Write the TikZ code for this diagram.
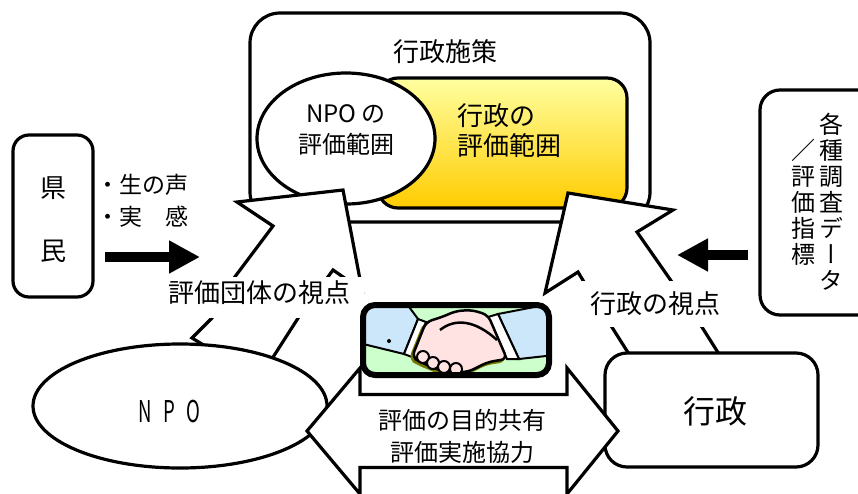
\documentclass[tikz,border=0pt]{standalone}
\usepackage{fontspec}
\setmainfont{Noto Sans CJK JP}
\newfontfamily\vertfont[RawFeature=+vert]{Noto Sans CJK JP}
\usepackage{graphicx}
\usepackage{tikz}
\usetikzlibrary{positioning, shapes.geometric, arrows.meta}
\definecolor{paleyellow}{RGB}{255,255,160}
\definecolor{deepyellow}{RGB}{255,204,0}
\definecolor{sleeveblue}{RGB}{204,230,250}
\definecolor{shakegreen}{RGB}{204,255,204}
\definecolor{handpink}{RGB}{255,226,226}
\definecolor{shadowolive}{RGB}{120,120,0}
\tikzstyle{boxline}=[%
      draw=black, line width=3.2pt, fill=white
]
\tikzstyle{roundbox}=[%
      boxline, rectangle, rounded corners=18pt, inner sep=0pt
]
\tikzstyle{oval}=[%
      boxline, ellipse, inner sep=0pt
]
\tikzstyle{callout}=[%
      draw=black, line width=3.2pt, fill=white, line join=miter
]
\tikzstyle{txt}=[%
      inner sep=0pt, align=center
]
\tikzstyle{viewlabel}=[%
      fill=white, inner xsep=14pt, inner ysep=0pt, text height=25pt, text depth=16pt,
      font=\fontsize{26}{30}\selectfont
]
\tikzstyle{fatarrow}=[%
      line width=10pt, -{Triangle[length=31pt,width=31pt]}
]

\begin{document}
\begin{tikzpicture}[x=1pt, y=-1pt]
    \useasboundingbox (0,0) rectangle (858,493);
    \clip (0,0) rectangle (858,493);

    % policy frame with both evaluation ranges
    \node[roundbox, rounded corners=30pt, minimum width=400pt, minimum height=209pt] (shisaku) at (450,117.5) {};
    \node[txt, font=\fontsize{26}{30}\selectfont] (shisakutitle) at (445,52) {行政施策};
    \node[roundbox, rounded corners=20pt, top color=paleyellow, bottom color=deepyellow,
          minimum width=249pt, minimum height=130pt] (gyoseihani) at (502.5,143) {};
    \node[txt, align=left, font=\fontsize{26}{30}\selectfont] (gyoseihanitext) at (509,131) {行政の\\評価範囲};
    \node[oval, minimum width=178pt, minimum height=131pt] (npohani) at (346,138.5) {};
    \node[txt, font=\fontsize{24}{31}\selectfont] (npohanitext) at (346,130) {NPO の\\評価範囲};

    % citizens
    \node[roundbox, rounded corners=16pt, minimum width=80pt, minimum height=162pt] (kenmin) at (53,216) {};
    \node[txt, font=\fontsize{26}{30}\selectfont] (ken) at (53,188) {県};
    \node[txt, font=\fontsize{26}{30}\selectfont] (min) [below=40pt of ken] {民};
    \node[txt, align=left, anchor=west, font=\fontsize{23}{32}\selectfont] (voice) at (96,201) {・生の声\\・実　感};
    \coordinate (voicetip) at (200,257);
    \draw[fatarrow, shorten <=10pt] (kenmin.east |- voicetip) -- (voicetip);

    % surveys and indicators
    \node[roundbox, rounded corners=20pt, minimum width=120pt, minimum height=225pt] (chosa) at (820,202.5) {};
    \node[txt, font=\fontsize{24}{26}\selectfont\vertfont] (chosatext) at (831,202) {各\\種\\調\\査\\デ\\ー\\タ};
    \node[txt, font=\fontsize{24}{26}\selectfont] (shihyotext) at (803,202) {／\\評\\価\\指\\標};
    \coordinate (datatip) at (677,255);
    \draw[fatarrow, shorten <=10pt] (chosa.west |- datatip) -- (datatip);

    % viewpoints
    \draw[callout] (237,202) -- (343,190) -- (362,290) -- (333,270) -- (302,312) -- (268,365)
                   -- (215,352) -- (192,338) -- (212,318) -- (225,290) -- (273,226) -- cycle;
    \draw[callout] (568,193) -- (673,210) -- (637,232) -- (688,305) -- (724,362) -- (634,362)
                   -- (596,302) -- (578,272) -- (545,293) -- cycle;
    \node[viewlabel, anchor=base] (dantaiview) at (259,302) {評価団体の視点};
    \node[viewlabel, anchor=base, text height=32pt, text depth=14pt, inner xsep=10pt] (gyoseiview) at (655,313) {行政の視点};

    % the two partners
    \node[oval, minimum width=294pt, minimum height=124pt] (npo) at (180,406) {};
    \node[txt, font=\fontsize{30}{36}\selectfont] (npotext) at (169,411) {\scalebox{0.62}[1]{N\hspace{20pt}P\hspace{17pt}O}};
    \node[roundbox, rounded corners=22pt, minimum width=213pt, minimum height=114pt] (gyosei) at (711.5,410) {};
    \node[txt, font=\fontsize{32}{36}\selectfont] (gyoseitext) at (715,411) {行政};

    % shared goal
    \draw[callout] (307,431) -- (360,368) -- (360,394.5) -- (567,394.5) -- (567,368) -- (618,431)
                   -- (567,494) -- (567,467.5) -- (360,467.5) -- (360,494) -- cycle;
    \node[txt, font=\fontsize{24}{32}\selectfont] (kyoryoku) at (462,436) {評価の目的共有\\評価実施協力};

    % handshake
    \begin{scope}
      \clip[rounded corners=12pt] (363,305) rectangle (549,375);
      \fill[shakegreen] (363,305) rectangle (549,375);
      \filldraw[fill=sleeveblue, line width=2pt] (355,300) -- (404,300) -- (418,319) -- (404,354) -- (355,342) -- cycle;
      \filldraw[fill=sleeveblue, line width=2pt] (498,314) -- (555,303) -- (555,355) -- (519,359) -- cycle;
      \fill (389,341) circle (2pt);
      \filldraw[fill=white, line width=2pt] (418,319) -- (426,322) -- (412,357) -- (404,354) -- cycle;
      \filldraw[fill=white, line width=2pt] (488,317) -- (498,314) -- (519,359) -- (507,359) -- cycle;
      \filldraw[fill=shadowolive, draw=shadowolive, line width=2.5pt, rounded corners=6pt, shift={(-2,2)}]
          (426,322) -- (442,317) -- (456,311) -- (472,310) -- (488,315) -- (507,359) -- (488,362)
          -- (468,372) -- (444,372) -- (420,362) -- (412,357) -- cycle;
      \filldraw[fill=handpink, line width=2.5pt, rounded corners=6pt]
          (426,322) -- (442,317) -- (456,311) -- (472,310) -- (488,315) -- (507,359) -- (488,362)
          -- (468,372) -- (444,372) -- (420,362) -- (412,357) -- cycle;
      \foreach \fx/\fy in {423/357, 433/363, 444/367, 456/369}
        \filldraw[fill=handpink, line width=2pt] (\fx,\fy) circle (6pt);
      \draw[line width=2.5pt] (440,330) .. controls (455,318) and (475,320) .. (497,340);
    \end{scope}
    \node[draw, line width=6pt, rounded corners=12pt, minimum width=186pt, minimum height=70pt, inner sep=0pt] (handshake) at (456,340) {};
\end{tikzpicture}
\end{document}
